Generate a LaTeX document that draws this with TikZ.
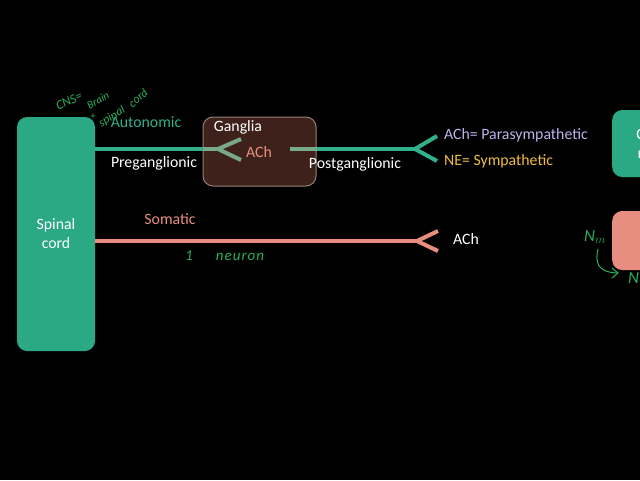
\documentclass[tikz,border=0pt]{standalone}
\usepackage{fontspec}
\setmainfont{Carlito}
\definecolor{boxgreen}{RGB}{43,168,132}
\definecolor{linegreen}{RGB}{50,176,138}
\definecolor{palegreen}{RGB}{120,170,135}
\definecolor{salmon}{RGB}{232,142,128}
\definecolor{brownbox}{RGB}{78,42,34}
\definecolor{lavender}{RGB}{185,180,235}
\definecolor{gold}{RGB}{240,190,60}
\definecolor{hand}{RGB}{40,175,90}
\begin{document}
\begin{tikzpicture}[x=1pt,y=-1pt,
  lbl/.style={font=\fontsize{15.8}{17}\selectfont,inner sep=0pt,anchor=center},
  handw/.style={text=hand,inner sep=0pt},
  greenline/.style={draw=linegreen,line width=4pt},
  salmonline/.style={draw=salmon,line width=4pt},
  forkline/.style={line width=4pt,line cap=butt}]
\useasboundingbox (0,0) rectangle (640,480);
\clip (0,0) rectangle (640,480);
\fill[black] (0,0) rectangle (640,480);

% spinal cord
\node[fill=boxgreen,rounded corners=10pt,minimum width=78pt,minimum height=234pt,inner sep=0pt,
  text=white,align=center,font=\fontsize{15.8}{19}\selectfont] (spinal) at (56,234) {Spinal\\cord};

% autonomic lines
\coordinate (fork1) at (218,149);
\coordinate (post0) at (290,149);
\coordinate (fork2) at (415,149);
\draw[greenline] (spinal.east |- fork1) -- (fork1);
\draw[greenline] (post0) -- (fork2);
\draw[draw=linegreen,forkline] (437,136) -- (fork2) -- (437,161);

% ganglia box
\node[fill=brownbox,fill opacity=0.8,draw=white!40!brownbox,line width=1pt,rounded corners=10pt,
  minimum width=113pt,minimum height=69pt,inner sep=0pt] (ganglia) at (259.5,151.5) {};
% lines seen through the box
\draw[draw=palegreen,line width=4pt] (ganglia.west |- fork1) -- (fork1);
\draw[draw=palegreen,forkline] (241,139) -- (fork1) -- (241,160);
\draw[draw=palegreen,line width=4pt] (post0) -- (ganglia.east |- post0);
\node[lbl,text=white] (gl) at (238,127) {Ganglia};
\node[lbl,text=salmon] (gach) at (259,152) {ACh};

% somatic
\coordinate (fork3) at (417,241);
\draw[salmonline] (spinal.east |- fork3) -- (fork3);
\draw[draw=salmon,forkline] (438,231) -- (fork3) -- (438,251);

% labels
\node[lbl,text=linegreen] (auto) at (146,122) {Autonomic};
\node[lbl,text=white] (pre) at (154,163) {Preganglionic};
\node[lbl,text=white] (post) at (355,164) {Postganglionic};
\node[lbl,text=lavender,anchor=west] (para) at (444,135) {ACh= Parasympathetic};
\node[lbl,text=gold,anchor=west] (symp) at (444,161) {NE= Sympathetic};
\node[lbl,text=salmon] (som) at (170,219) {Somatic};
\node[lbl,text=white,anchor=west] (sach) at (453,239) {ACh};

% right boxes (cut off)
\node[fill=boxgreen,rounded corners=10pt,minimum width=96pt,minimum height=67pt,inner sep=0pt,
  text=white,align=center,font=\fontsize{15.8}{19}\selectfont,anchor=west] (organ) at (612,143.5) {Cardiac\\muscle};
\node[fill=salmon,rounded corners=10pt,minimum width=96pt,minimum height=59pt,inner sep=0pt,
  anchor=west] (skel) at (612,240.5) {};

% handwriting
\node[handw,rotate=25,font=\fontsize{13}{13}\itshape\selectfont] (cns) at (69,101) {CNS=};
\node[handw,rotate=30,font=\fontsize{11}{11}\itshape\selectfont] (brain) at (98,100) {Brain};
\node[handw,font=\fontsize{10}{10}\selectfont] (plus) at (93,117) {+};
\node[handw,rotate=32,font=\fontsize{12}{12}\itshape\selectfont] (spl) at (112,117) {spinal};
\node[handw,rotate=42,font=\fontsize{12}{12}\itshape\selectfont] (crd) at (138,98) {cord};
\node[handw,font=\fontsize{15}{15}\itshape\selectfont] (one) at (189,256) {1};
\node[handw,font=\fontsize{15}{15}\itshape\selectfont] (neu) at (240,257) {n\kern1pt e\kern1pt u\kern1pt r\kern1pt o\kern1pt n};
\node[handw,font=\fontsize{17}{17}\itshape\selectfont] (nm) at (595,237) {N$_{\scriptstyle m}$};
\node[handw,font=\fontsize{17}{17}\itshape\selectfont,anchor=west] (nn) at (628,278) {N};
\draw[draw=hand,line width=1pt,line cap=round] (598,249) .. controls (595,262) and (597,272) .. (617,273);
\draw[draw=hand,line width=1pt,line cap=round] (612,268) -- (618,273) -- (612,278);
\end{tikzpicture}
\end{document}
